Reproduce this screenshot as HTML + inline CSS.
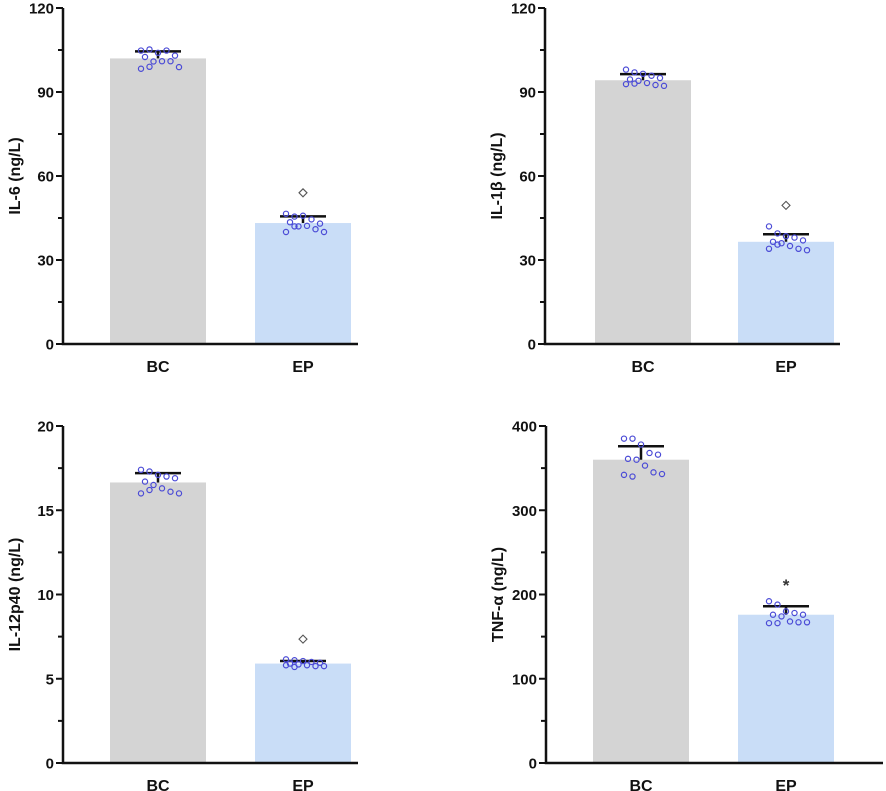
<!DOCTYPE html>
<html><head><meta charset="utf-8"><style>
body{margin:0;background:#fff;}
svg{display:block;font-family:"Liberation Sans",Arial,sans-serif;font-weight:bold;}
</style></head><body>
<svg id="c" width="886" height="791"></svg>
<script>
const categories=["BC","EP"];
const il6Means=[102,43.2];
const il6Sem=[104.5,45.6];
const il6Points=[[104.8,105.2,104,104.8,103,102.5,100.9,101,101,98.9,98.3,99],[46.5,45.5,45.8,44.5,43,43.5,42,42.2,41,40,40,42]];
const il6Outlier=[null,54];
const il6Ticks=[0,30,60,90,120];
const il1Means=[94.2,36.5];
const il1Sem=[96.4,39.2];
const il1Points=[[98,97,96.5,95.8,95,94.5,94,93.2,92.5,92.2,92.8,93],[42,39.5,38.5,38,37,36.5,36,35,34,33.5,34,35.5]];
const il1Outlier=[null,49.5];
const il1Ticks=[0,30,60,90,120];
const il12Means=[16.65,5.9];
const il12Sem=[17.2,6.05];
const il12Points=[[17.4,17.3,17.1,17,16.9,16.7,16.5,16.3,16.1,16,16,16.2],[6.15,6.1,6.05,6,5.95,5.9,5.85,5.8,5.75,5.75,5.8,5.7]];
const il12Outlier=[null,7.35];
const il12Ticks=[0,5,10,15,20];
const tnfMeans=[360,176];
const tnfSem=[376,186];
const tnfPoints=[[385,385,378,368,366,361,360,353,345,343,342,340],[192,188,180,178,176,176,174,168,167,167,166,166]];
const tnfOutlier=[null,null];
const tnfStar=[null,215];
const tnfTicks=[0,100,200,300,400];

const svg=document.getElementById('c');
const NS='http://www.w3.org/2000/svg';
function mk(tag,attrs,parent){const e=document.createElementNS(NS,tag);for(const k in attrs)e.setAttribute(k,attrs[k]);(parent||svg).appendChild(e);return e;}

function panel(id,title,ax,top,bottom,xEnd,barX,means,sem,points,outlier,ticks,star){
  const g=mk('g',{});
  
  
  const max=ticks[ticks.length-1];
  const y=v=>bottom-(v/max)*(bottom-top);
  const colors=['#d4d4d4','#c9ddf7'];
  const bw=96;
  categories.forEach((c,i)=>{
    const x0=barX[i];const cx=x0+bw/2;
    const b=mk('rect',{x:x0,y:y(means[i]),width:bw,height:bottom-y(means[i]),fill:colors[i]},g);
    
    
    const e=mk('path',{d:`M${cx-23},${y(sem[i])}H${cx+23}M${cx},${y(sem[i])}V${y(means[i])}`,stroke:'#111',"stroke-width":2.5,fill:'none'},g);
    
    
    points[i].forEach((v,j)=>{
      const off=((j%5)-2)*8.5+(Math.floor(j/5)%2?4:0);
      const p=mk('circle',{cx:cx+off,cy:y(v),r:2.6,fill:'none',stroke:'#4b4bd6',"stroke-width":1.2},g);
      
      
    });
    if(outlier[i]!=null){const oy=y(outlier[i]);
      const d=mk('path',{d:`M${cx},${oy-4}L${cx+4},${oy}L${cx},${oy+4}L${cx-4},${oy}Z`,fill:'none',stroke:'#555',"stroke-width":1.1},g);
      
      }
    if(star&&star[i]!=null){const s=mk('text',{x:cx,y:y(star[i])+9,"text-anchor":'middle',"font-size":17,fill:'#333'},g);s.textContent='*';
      
      }
    const t=mk('text',{x:cx,y:bottom+28,"text-anchor":'middle',"font-size":16,fill:'#111'},g);t.textContent=c;
    
    
  });
  const axes=mk('path',{d:`M${ax},${top}V${bottom}H${xEnd}`,stroke:'#111',"stroke-width":2.5,fill:'none'},g);
  
  
  ticks.forEach((tv,k)=>{
    mk('line',{x1:ax-7,x2:ax,y1:y(tv),y2:y(tv),stroke:'#111',"stroke-width":2},g);
    if(k<ticks.length-1){const mv=(tv+ticks[k+1])/2;mk('line',{x1:ax-5,x2:ax,y1:y(mv),y2:y(mv),stroke:'#111',"stroke-width":2},g);}
    const tl=mk('text',{x:ax-9,y:y(tv)+5.5,"text-anchor":'end',"font-size":15,fill:'#111'},g);tl.textContent=tv;
    
    
  });
  const yt=mk('text',{x:0,y:0,transform:`translate(${ax-43},${(top+bottom)/2}) rotate(-90)`,"text-anchor":'middle',"font-size":16,fill:'#111'},g);
  yt.textContent=title;
  
  
}
panel('il6','IL-6 (ng/L)',63,8,344,358,[110,255],il6Means,il6Sem,il6Points,il6Outlier,il6Ticks);
panel('il1b','IL-1β (ng/L)',545,8,344,840,[595,738],il1Means,il1Sem,il1Points,il1Outlier,il1Ticks);
panel('il12p40','IL-12p40 (ng/L)',63,426,763,358,[110,255],il12Means,il12Sem,il12Points,il12Outlier,il12Ticks);
panel('tnf','TNF-α (ng/L)',546,426,763,883,[593,738],tnfMeans,tnfSem,tnfPoints,tnfOutlier,tnfTicks,tnfStar);
</script>
</body></html>
